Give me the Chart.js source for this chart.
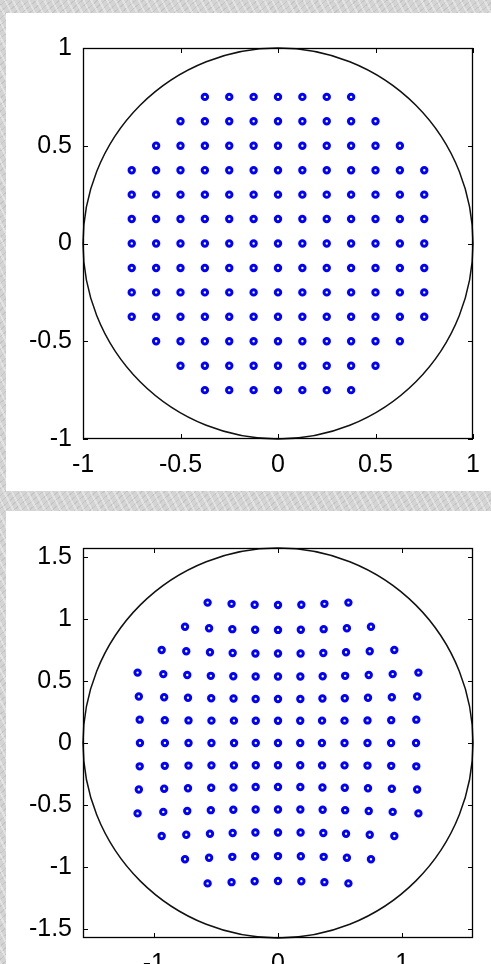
<!DOCTYPE html>
<html>
<head>
<meta charset="utf-8">
<script src="https://cdn.jsdelivr.net/npm/chart.js@4"></script>
<style>
  body {
    margin: 0; width: 491px; height: 964px; overflow: hidden; position: relative;
    background-color: #d4d4d4;
    background-image:
      repeating-linear-gradient(63deg, rgba(255,255,255,0.35) 0 2px, rgba(0,0,0,0) 2px 7px),
      repeating-linear-gradient(-41deg, rgba(150,150,150,0.25) 0 1px, rgba(0,0,0,0) 1px 5px);
  }
  .panel { position: absolute; left: 6px; width: 485px; background: #fff; }
  #p1 { top: 13px; height: 478px; }
  #p2 { top: 511px; height: 453px; }
</style>
</head>
<body>
<div class="panel" id="p1"><canvas id="topChart" width="485" height="478"></canvas></div>
<div class="panel" id="p2"><canvas id="bottomChart" width="485" height="453"></canvas></div>
<script>
// top panel: regular grid, one row per y value
const topRowY = [0.75, 0.625, 0.5, 0.375, 0.25, 0.125, 0, -0.125, -0.25, -0.375, -0.5, -0.625, -0.75];
const topRowX = [
  [-0.375, -0.25, -0.125, 0, 0.125, 0.25, 0.375],
  [-0.5, -0.375, -0.25, -0.125, 0, 0.125, 0.25, 0.375, 0.5],
  [-0.625, -0.5, -0.375, -0.25, -0.125, 0, 0.125, 0.25, 0.375, 0.5, 0.625],
  [-0.75, -0.625, -0.5, -0.375, -0.25, -0.125, 0, 0.125, 0.25, 0.375, 0.5, 0.625, 0.75],
  [-0.75, -0.625, -0.5, -0.375, -0.25, -0.125, 0, 0.125, 0.25, 0.375, 0.5, 0.625, 0.75],
  [-0.75, -0.625, -0.5, -0.375, -0.25, -0.125, 0, 0.125, 0.25, 0.375, 0.5, 0.625, 0.75],
  [-0.75, -0.625, -0.5, -0.375, -0.25, -0.125, 0, 0.125, 0.25, 0.375, 0.5, 0.625, 0.75],
  [-0.75, -0.625, -0.5, -0.375, -0.25, -0.125, 0, 0.125, 0.25, 0.375, 0.5, 0.625, 0.75],
  [-0.75, -0.625, -0.5, -0.375, -0.25, -0.125, 0, 0.125, 0.25, 0.375, 0.5, 0.625, 0.75],
  [-0.75, -0.625, -0.5, -0.375, -0.25, -0.125, 0, 0.125, 0.25, 0.375, 0.5, 0.625, 0.75],
  [-0.625, -0.5, -0.375, -0.25, -0.125, 0, 0.125, 0.25, 0.375, 0.5, 0.625],
  [-0.5, -0.375, -0.25, -0.125, 0, 0.125, 0.25, 0.375, 0.5],
  [-0.375, -0.25, -0.125, 0, 0.125, 0.25, 0.375]
];

// bottom panel: distorted grid, x and y read per point
const botRowX = [
  [-0.567, -0.374, -0.188, 0, 0.188, 0.374, 0.567],
  [-0.749, -0.555, -0.368, -0.184, 0, 0.184, 0.368, 0.555, 0.749],
  [-0.937, -0.739, -0.548, -0.365, -0.182, 0, 0.182, 0.365, 0.548, 0.739, 0.937],
  [-1.131, -0.924, -0.731, -0.541, -0.360, -0.180, 0, 0.180, 0.360, 0.541, 0.731, 0.924, 1.131],
  [-1.121, -0.917, -0.725, -0.538, -0.358, -0.180, 0, 0.180, 0.358, 0.538, 0.725, 0.917, 1.121],
  [-1.114, -0.912, -0.721, -0.536, -0.355, -0.179, 0, 0.179, 0.355, 0.536, 0.721, 0.912, 1.114],
  [-1.112, -0.911, -0.721, -0.536, -0.354, -0.179, 0, 0.179, 0.354, 0.536, 0.721, 0.911, 1.112],
  [-1.114, -0.912, -0.721, -0.536, -0.355, -0.179, 0, 0.179, 0.355, 0.536, 0.721, 0.912, 1.114],
  [-1.121, -0.917, -0.725, -0.538, -0.358, -0.180, 0, 0.180, 0.358, 0.538, 0.725, 0.917, 1.121],
  [-1.131, -0.924, -0.731, -0.541, -0.360, -0.180, 0, 0.180, 0.360, 0.541, 0.731, 0.924, 1.131],
  [-0.937, -0.739, -0.548, -0.365, -0.182, 0, 0.182, 0.365, 0.548, 0.739, 0.937],
  [-0.749, -0.555, -0.368, -0.184, 0, 0.184, 0.368, 0.555, 0.749],
  [-0.567, -0.374, -0.188, 0, 0.188, 0.374, 0.567]
];
const botRowY = [
  [1.131, 1.121, 1.114, 1.112, 1.114, 1.121, 1.131],
  [0.937, 0.924, 0.917, 0.912, 0.911, 0.912, 0.917, 0.924, 0.937],
  [0.749, 0.739, 0.731, 0.725, 0.721, 0.721, 0.721, 0.725, 0.731, 0.739, 0.749],
  [0.567, 0.555, 0.548, 0.541, 0.538, 0.536, 0.536, 0.536, 0.538, 0.541, 0.548, 0.555, 0.567],
  [0.374, 0.368, 0.365, 0.360, 0.358, 0.355, 0.354, 0.355, 0.358, 0.360, 0.365, 0.368, 0.374],
  [0.188, 0.184, 0.182, 0.180, 0.180, 0.179, 0.179, 0.179, 0.180, 0.180, 0.182, 0.184, 0.188],
  [0, 0, 0, 0, 0, 0, 0, 0, 0, 0, 0, 0, 0],
  [-0.188, -0.184, -0.182, -0.180, -0.180, -0.179, -0.179, -0.179, -0.180, -0.180, -0.182, -0.184, -0.188],
  [-0.374, -0.368, -0.365, -0.360, -0.358, -0.355, -0.354, -0.355, -0.358, -0.360, -0.365, -0.368, -0.374],
  [-0.567, -0.555, -0.548, -0.541, -0.538, -0.536, -0.536, -0.536, -0.538, -0.541, -0.548, -0.555, -0.567],
  [-0.749, -0.739, -0.731, -0.725, -0.721, -0.721, -0.721, -0.725, -0.731, -0.739, -0.749],
  [-0.937, -0.924, -0.917, -0.912, -0.911, -0.912, -0.917, -0.924, -0.937],
  [-1.131, -1.121, -1.114, -1.112, -1.114, -1.121, -1.131]
];

const topTicksX = [-1, -0.5, 0, 0.5, 1];
const topTicksY = [-1, -0.5, 0, 0.5, 1];
const botTicksX = [-1, 0, 1];
const botTicksY = [-1.5, -1, -0.5, 0, 0.5, 1, 1.5];
const axisLimit = [1, 1.5708];
const circleRadius = [1, 1.5708];

const font = { family: "'Liberation Sans', Arial, sans-serif", size: 25 };

// box, inward ticks and the circle, all placed through the scales
const framePlugin = {
  id: "frame",
  beforeDatasetsDraw(chart, args, opts) {
    const { ctx, chartArea: a, scales: { x, y } } = chart;
    ctx.save();
    const cx = x.getPixelForValue(0);
    const cy = y.getPixelForValue(0);
    const rx = x.getPixelForValue(opts.radius) - cx;
    const ry = cy - y.getPixelForValue(opts.radius);
    ctx.strokeStyle = "#111";
    ctx.lineWidth = 1.5;
    ctx.beginPath();
    ctx.ellipse(cx, cy, rx, ry, 0, 0, Math.PI * 2);
    ctx.stroke();

    ctx.strokeStyle = "#000";
    ctx.lineWidth = 1;
    ctx.beginPath();
    x.ticks.forEach((t) => {
      const px = Math.round(x.getPixelForValue(t.value)) + 0.5;
      ctx.moveTo(px, a.bottom); ctx.lineTo(px, a.bottom - 5);
      ctx.moveTo(px, a.top); ctx.lineTo(px, a.top + 5);
    });
    y.ticks.forEach((t) => {
      const py = Math.round(y.getPixelForValue(t.value)) + 0.5;
      ctx.moveTo(a.left, py); ctx.lineTo(a.left + 5, py);
      ctx.moveTo(a.right, py); ctx.lineTo(a.right - 5, py);
    });
    ctx.stroke();
    ctx.lineWidth = 1.3;
    ctx.strokeRect(Math.round(a.left) + 0.5, Math.round(a.top) + 0.5, Math.round(a.width) - 1, Math.round(a.height) - 1);
    ctx.restore();
  }
};

function makeChart(id, rowX, rowY, yFromRow, lim, ticksX, ticksY, radius, padTop, xHeight) {
  const pts = [];
  rowX.forEach((xs, i) => {
    xs.forEach((xv, j) => {
      pts.push({ x: xv, y: yFromRow ? rowY[i] : rowY[i][j] });
    });
  });
  return new Chart(document.getElementById(id), {
    type: "scatter",
    data: {
      datasets: [{
        data: pts,
        borderColor: "#0000ff",
        backgroundColor: "rgba(0,0,0,0)",
        pointRadius: 2.7,
        borderWidth: 3,
        pointHoverRadius: 2.7
      }]
    },
    options: {
      responsive: false,
      animation: false,
      events: [],
      layout: { padding: { left: 0, right: 18, top: padTop, bottom: 0 } },
      scales: {
        x: {
          type: "linear",
          min: -lim,
          max: lim,
          afterBuildTicks: (s) => { s.ticks = ticksX.map((v) => ({ value: v })); },
          afterFit: (s) => { s.height = xHeight; },
          grid: { display: false, drawTicks: false },
          border: { display: false },
          ticks: { color: "#000", font: font, padding: 11, maxRotation: 0, autoSkip: false, callback: (v) => String(v) }
        },
        y: {
          type: "linear",
          min: -lim,
          max: lim,
          afterBuildTicks: (s) => { s.ticks = ticksY.map((v) => ({ value: v })); },
          afterFit: (s) => { s.width = 77; },
          grid: { display: false, drawTicks: false },
          border: { display: false },
          ticks: { color: "#000", font: font, padding: 11, autoSkip: false, callback: (v) => String(v) }
        }
      },
      plugins: {
        legend: { display: false },
        tooltip: { enabled: false },
        frame: { radius: radius }
      }
    },
    plugins: [framePlugin]
  });
}

makeChart("topChart", topRowX, topRowY, true, axisLimit[0], topTicksX, topTicksY, circleRadius[0], 35, 52);
makeChart("bottomChart", botRowX, botRowY, false, axisLimit[1], botTicksX, botTicksY, circleRadius[1], 37, 26);
</script>
</body>
</html>
